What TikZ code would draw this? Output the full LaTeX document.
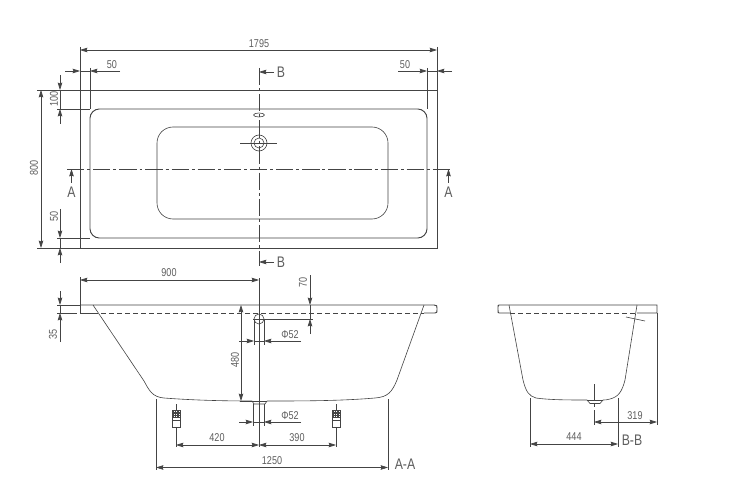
\documentclass[tikz,border=0pt]{standalone}
\usepackage{fontspec}
\setmainfont[FakeStretch=0.8]{Liberation Sans}
\usetikzlibrary{arrows.meta}
\definecolor{ln}{HTML}{444444}
\definecolor{tx}{HTML}{5E5E5E}
\tikzset{
  part/.style={draw=ln,line width=0.7pt},
  thin part/.style={draw=ln,line width=0.45pt},
  dimline/.style={draw=ln,line width=0.5pt},
  dimboth/.style={dimline,{Stealth[length=5.5pt,width=3.4pt,inset=0.6pt]}-{Stealth[length=5.5pt,width=3.4pt,inset=0.6pt]}},
  dimto/.style={dimline,-{Stealth[length=5.5pt,width=3.4pt,inset=0.6pt]}},
  center line/.style={draw=ln,line width=0.5pt,dash pattern=on 13pt off 2.2pt on 2.2pt off 2.2pt},
  hidden/.style={draw=ln,line width=0.6pt,dash pattern=on 4pt off 2pt},
  num/.style={text=tx,inner sep=0pt,font=\fontsize{8.5}{9}\selectfont},
  big/.style={text=tx,inner sep=0pt,font=\fontsize{11.5}{12}\selectfont},
}
\begin{document}
\begin{tikzpicture}[x=0.75pt,y=-0.75pt]
\useasboundingbox (0,0) rectangle (734,495);
\fill[white] (0,0) rectangle (734,495);
% ---------- plan view
\draw[part] (80,90) rectangle (437,248);
\draw[part,rounded corners=7pt] (90,109) rectangle (427,238);
\draw[thin part,rounded corners=12pt] (157,127) rectangle (388,219);
\draw[center line] (67,169) -- (452,169);
\draw[center line] (259,68) -- (259,266);
\draw[thin part] (259,115) ellipse (5.5 and 2);
\draw[thin part] (259,143) circle (8);
\draw[thin part] (259,143) circle (5);
\draw[thin part] (240,143) -- (277,143);
% plan dimensions
\draw[dimline] (80,47) -- (80,90);
\draw[dimline] (437,47) -- (437,90);
\draw[dimboth] (80,50) -- (437,50);
\node[num] (t1795) at (259,44) {1795};
\draw[dimline] (90,68) -- (90,109);
\draw[dimline] (427,68) -- (427,109);
\draw[dimline] (80,71) -- (90,71);
\draw[dimline] (427,71) -- (437,71);
\draw[dimto] (65,71) -- (80,71);
\draw[dimto] (120,71) -- (90,71);
\node[num] (t50a) at (112,65) {50};
\draw[dimto] (398,71) -- (427,71);
\draw[dimto] (452,71) -- (437,71);
\node[num] (t50b) at (405,65) {50};
\draw[dimline] (37,90) -- (80,90);
\draw[dimline] (37,248) -- (80,248);
\draw[dimline] (57,109) -- (90,109);
\draw[dimline] (57,238) -- (90,238);
\draw[dimboth] (41,90) -- (41,248);
\node[num,rotate=90] (t800) at (34,168) {800};
\draw[dimline] (60,90) -- (60,109);
\draw[dimto] (60,75) -- (60,90);
\draw[dimto] (60,124) -- (60,109);
\node[num,rotate=90] (t100) at (54,99) {100};
\draw[dimline] (60,238) -- (60,248);
\draw[dimto] (60,209) -- (60,238);
\draw[dimto] (60,263) -- (60,248);
\node[num,rotate=90] (t50c) at (54,216) {50};
% section marks
\draw[dimto] (71.5,183) -- (71.5,169);
\node[big] (tA1) at (71.5,192) {A};
\draw[dimto] (448.5,183) -- (448.5,169);
\node[big] (tA2) at (448.5,192) {A};
\draw[dimto] (274,72) -- (259,72);
\node[big] (tB1) at (281,72) {B};
\draw[dimto] (274,262) -- (259,262);
\node[big] (tB2) at (281,262) {B};
% ---------- section A-A
\draw[part] (80,305) -- (434,305) .. controls (437,305) and (437,306) .. (437,308) -- (437,310) .. controls (437,312) and (437,313) .. (435,313) -- (424,313);
\draw[part] (80,305) -- (80,313) -- (93,313);
\draw[hidden] (93,313) -- (424,313);
\draw[thin part] (93,305) -- (144,381) .. controls (149,390) and (152,397) .. (164,398) .. controls (190,400) and (220,401) .. (252,401);
\draw[thin part] (424,305) -- (397,380) .. controls (392,392) and (388,397) .. (375,398) .. controls (340,401) and (300,401) .. (267,401);
\draw[part] (240,401) -- (267,401);
\draw[thin part] (252,401) -- (254,404) -- (265,404) -- (267,401);
\draw[thin part] (259,319) circle (5);
\draw[thin part] (254,319) -- (254,345);
\draw[thin part] (264,319) -- (264,345);
\draw[thin part] (253,404) -- (253,426);
\draw[thin part] (264,404) -- (264,426);
% feet A-A
\foreach \fx in {176,336}{
  \draw[thin part] (\fx-4,410) rectangle (\fx+4,427);
  \foreach \fy in {412,413.5,415,417,420}{\draw[thin part] (\fx-4,\fy) -- (\fx+4,\fy);}
  \foreach \fd in {-2.5,-1,1,2.5}{\draw[thin part] (\fx+\fd,410) -- (\fx+\fd,417);}
  \draw[dimline] (\fx,404) -- (\fx,410);
  \draw[dimline] (\fx,427) -- (\fx,447);
}
% A-A dimensions
\draw[dimline] (80,277) -- (80,305);
\draw[dimline] (259,278) -- (259,447);
\draw[dimboth] (80,280) -- (259,280);
\node[num] (t900) at (169,273) {900};
\draw[dimline] (57,305) -- (80,305);
\draw[dimline] (57,313) -- (77,313);
\draw[dimline] (60,305) -- (60,313);
\draw[dimto] (60,291) -- (60,305);
\draw[dimto] (60,342) -- (60,313);
\node[num,rotate=90] (t35) at (53,334) {35};
\draw[dimboth] (241,401) -- (241,305);
\node[num,rotate=90] (t480) at (235,360) {480};
\draw[dimline] (253,319) -- (313,319);
\draw[dimline] (310,305) -- (310,319);
\draw[dimto] (310,275) -- (310,305);
\draw[dimto] (310,334) -- (310,319);
\node[num,rotate=90] (t70) at (303,282) {70};
\draw[dimline] (254,341) -- (264,341);
\draw[dimto] (239,341) -- (254,341);
\draw[dimto] (301,341) -- (264,341);
\node[num] (tphia) at (290,335) {\char"03A6 52};
\draw[dimline] (253,422) -- (264,422);
\draw[dimto] (239,422) -- (253,422);
\draw[dimto] (301,422) -- (264,422);
\node[num] (tphib) at (290,416) {\char"03A6 52};
\draw[dimboth] (176,445) -- (259,445);
\draw[dimboth] (259,445) -- (336,445);
\node[num] (t420) at (217,438) {420};
\node[num] (t390) at (297,438) {390};
\draw[dimline] (156,399) -- (156,470);
\draw[dimline] (388,399) -- (388,470);
\draw[dimboth] (156,467.5) -- (388,467.5);
\node[num] (t1250) at (272,461) {1250};
\node[big] (tAA) at (405,464) {A-A};
% ---------- section B-B
\draw[part] (499,305) -- (657,305) -- (657,313) -- (499,313) .. controls (498,313) and (498,312) .. (498,310) -- (498,307) .. controls (498,306) and (498,305) .. (499,305);
\draw[draw=white,line width=1pt] (510,313) -- (637,313);
\draw[hidden] (510,313) -- (637,313);
\draw[thin part] (509,305) -- (523,380) .. controls (526,392) and (529,396) .. (536,398) .. controls (550,400) and (570,400) .. (587,400);
\draw[thin part] (637,305) -- (625,380) .. controls (622,392) and (618,397) .. (610,399) .. controls (607,400) and (605,400) .. (603,400);
\draw[part] (587,400) -- (603,400);
\draw[thin part] (587,400) -- (590,403.5) -- (600,403.5) -- (603,400);
\draw[thin part] (626,317) -- (645,321);
\draw[center line] (594,384) -- (594,425);
% B-B dimensions
\draw[dimline] (657,313) -- (657,425);
\draw[dimboth] (594,422) -- (657,422);
\node[num] (t319) at (635,416) {319};
\draw[dimline] (530,398) -- (530,447);
\draw[dimline] (618,398) -- (618,447);
\draw[dimboth] (530,444) -- (618,444);
\node[num] (t444) at (574,437) {444};
\node[big] (tBB) at (632,440) {B-B};
\end{tikzpicture}
\end{document}
